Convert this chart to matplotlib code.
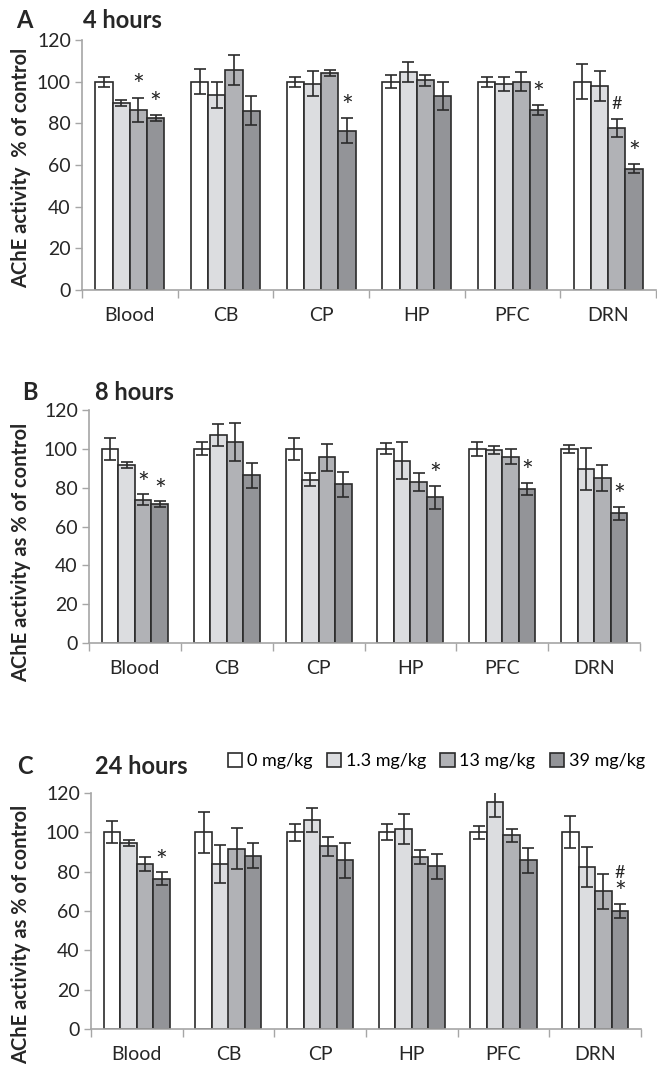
import matplotlib.pyplot as plt
import numpy as np

plt.rcParams['font.family'] = ['Lato', 'DejaVu Sans']

regions = ['Blood', 'CB', 'CP', 'HP', 'PFC', 'DRN']
doses = ['0 mg/kg', '1.3 mg/kg', '13 mg/kg', '39 mg/kg']
colors = ['#ffffff', '#dcdde0', '#b1b2b6', '#939498']

# mean values, rows = dose, cols = region
h4_mean = [[100, 100, 100, 100, 100, 100],
           [89.7, 93.5, 99, 104.4, 98.8, 97.8],
           [86.5, 105.7, 104.1, 100.7, 100, 77.9],
           [82.5, 86, 76.5, 93.1, 86.4, 58.3]]
h4_err = [[2.4, 6, 2.4, 3.2, 2.4, 8.4],
          [1.3, 6.2, 6, 4.8, 3.3, 7.3],
          [5.8, 7.3, 1.5, 2.7, 4.5, 4.3],
          [1.3, 6.9, 5.9, 6.7, 2.4, 2.2]]
h8_mean = [[100, 100, 100, 100, 100, 100],
           [91.5, 107.1, 84.2, 93.9, 99.4, 89.4],
           [73.9, 103.5, 95.6, 83, 95.9, 85.1],
           [71.5, 86.3, 81.7, 75, 79.4, 66.7]]
h8_err = [[5.7, 3.4, 5.7, 2.8, 3.7, 1.9],
          [1.5, 5.8, 3.4, 9.6, 2, 10.8],
          [2.6, 10, 7, 4.6, 3.8, 6.7],
          [1.4, 6.4, 6.4, 5.9, 3.1, 3.6]]
h24_mean = [[100, 100, 100, 100, 100, 100],
            [94.5, 84, 106.4, 101.7, 115.4, 82.3],
            [83.7, 91.6, 92.8, 87.4, 98.4, 70.1],
            [76.5, 88.1, 85.7, 82.8, 85.7, 59.9]]
h24_err = [[5.6, 10.3, 4.4, 4, 3.2, 8.1],
           [1.5, 9.8, 6.1, 7.6, 7.6, 10],
           [3.6, 10.4, 4.8, 3.6, 3.3, 8.9],
           [3.1, 6.4, 9, 6.4, 6.4, 3.6]]

# significance marks: (dose index, region index, symbol)
h4_marks = [(2, 0, '*'), (3, 0, '*'), (3, 2, '*'), (3, 4, '*'), (2, 5, '#'), (3, 5, '*')]
h8_marks = [(2, 0, '*'), (3, 0, '*'), (3, 3, '*'), (3, 4, '*'), (3, 5, '*')]
h24_marks = [(3, 0, '*'), (3, 5, '*'), (3, 5, '#')]

panels = [
    ('A', '4 hours', 'AChE activity  % of control', h4_mean, h4_err, h4_marks,
     [82, 40, 656, 290], (24, 20), (83, 20), 0.49),
    ('B', '8 hours', 'AChE activity as % of control', h8_mean, h8_err, h8_marks,
     [89, 410, 640, 643], (30, 393), (95, 393), 0.39),
    ('C', '24 hours', 'AChE activity as % of control', h24_mean, h24_err, h24_marks,
     [91, 793, 641, 1029], (25, 767), (95, 767), 0.40),
]

W, H = 657, 1065
fig = plt.figure(figsize=(W / 100, H / 100), dpi=100)

x = np.arange(len(regions))
bw = 0.18
axis_col = '#a6a6a6'
txt_col = '#262626'

for letter, title, ylab, mean, err, marks, box, lpos, tpos, ylab_y in panels:
    l, t, r, b = box
    ax = fig.add_axes([l / W, 1 - b / H, (r - l) / W, (b - t) / H])
    for i in range(4):
        ax.bar(x + (i - 1.5) * bw, mean[i], bw, color=colors[i], edgecolor='#2b2b2b',
               linewidth=1.2, label=doses[i], zorder=2)
        ax.errorbar(x + (i - 1.5) * bw, mean[i], yerr=err[i], fmt='none',
                    ecolor='#2b2b2b', elinewidth=1.2, capsize=4.5, capthick=1.2, zorder=3)
    for i, j, sym in marks:
        off = 5 if sym == '*' else 7
        if sym == '#' and any(m[0] == i and m[1] == j and m[2] == '*' for m in marks):
            off = 16
        yv = mean[i][j] + err[i][j] + off
        ax.text(x[j] + (i - 1.5) * bw, yv, sym, ha='center', va='center',
                fontsize=20 if sym == '*' else 13, color=txt_col)
    ax.set_ylim(0, 120)
    ax.set_xlim(-0.5, len(regions) - 0.5)
    ax.set_yticks(range(0, 121, 20))
    ax.set_xticks(x)
    ax.set_xticklabels(regions)
    ax.set_xticks(np.arange(-0.5, len(regions), 1), minor=True)
    ax.tick_params(axis='x', which='major', length=0, pad=12, labelsize=14, labelcolor=txt_col)
    ax.tick_params(axis='x', which='minor', length=6, width=1, color=axis_col, direction='out')
    ax.tick_params(axis='y', length=5, width=1, color=axis_col, labelsize=14, labelcolor=txt_col, pad=3)
    for s in ['top', 'right']:
        ax.spines[s].set_visible(False)
    for s in ['left', 'bottom']:
        ax.spines[s].set_color(axis_col)
        ax.spines[s].set_linewidth(1.2)
    ax.set_ylabel(ylab, fontsize=14.5, fontweight='bold', color=txt_col)
    ax.yaxis.set_label_coords(-(l - 31) / (r - l), ylab_y)
    fig.text(lpos[0] / W, 1 - lpos[1] / H, letter, fontsize=17, fontweight='bold',
             ha='center', va='center', color=txt_col)
    fig.text(tpos[0] / W, 1 - tpos[1] / H, title, fontsize=17, fontweight='bold',
             ha='left', va='center', color=txt_col)
    if letter == 'C':
        ax.legend(loc='center right', bbox_to_anchor=(1.007, 1.135), ncol=4, frameon=False,
                  fontsize=13, handlelength=0.8, handleheight=0.8, handletextpad=0.25,
                  columnspacing=0.8, borderaxespad=0, borderpad=0)

fig.savefig('out.png', dpi=100)
plt.close()
